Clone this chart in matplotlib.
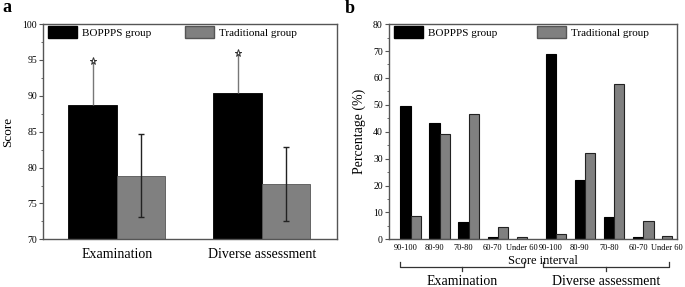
import matplotlib.pyplot as plt
from matplotlib.patches import Patch

plt.rcParams['font.family'] = ['Liberation Serif', 'DejaVu Serif']

# panel a
categories_a = ["Examination", "Diverse assessment"]
boppps_mean = [88.7, 90.4]
boppps_sd = [6.0, 5.4]
trad_mean = [78.9, 77.7]
trad_sd = [5.8, 5.2]

# panel b
intervals = ["90-100", "80-90", "70-80", "60-70", "Under 60"]
boppps_exam = [49.5, 43.1, 6.5, 0.9, None]
trad_exam = [8.8, 39.0, 46.6, 4.7, 0.7]
boppps_div = [68.9, 22.0, 8.4, 0.9, None]
trad_div = [2.0, 32.2, 57.6, 6.8, 1.3]
blocks = ["Examination", "Diverse assessment"]

GRAY = "#808080"
SPINE = "#555555"

fig = plt.figure(figsize=(6.85, 2.87), dpi=100)


def style_axes(ax):
    for s in ax.spines.values():
        s.set_color(SPINE)
        s.set_linewidth(1.0)
    ax.tick_params(axis='y', which='major', direction='out', length=3, width=0.8,
                   labelsize=7, pad=1.5, color=SPINE)
    ax.tick_params(axis='y', which='minor', direction='out', length=1.8, width=0.6, color=SPINE)
    ax.tick_params(axis='x', length=0)


def make_legend(ax, spacing):
    ax.legend(handles=[Patch(facecolor="black", edgecolor="black", label="BOPPPS group"),
                       Patch(facecolor=GRAY, edgecolor="#555555", label="Traditional group")],
              loc='upper left', bbox_to_anchor=(0.0, 1.015), ncol=2, frameon=False, fontsize=8,
              handlelength=2.6, handleheight=1.3, handletextpad=0.45, columnspacing=spacing,
              borderaxespad=0.3, borderpad=0.15)


# ---------------- panel a ----------------
ax1 = fig.add_axes([0.0632, 0.166, 0.4282, 0.750])
w = 0.333
xs = [1, 2]
ax1.bar([x - w / 2 for x in xs], boppps_mean, w, color="black", edgecolor="black", lw=0.6)
ax1.bar([x + w / 2 for x in xs], trad_mean, w, color=GRAY, edgecolor="#555555", lw=0.6)
ax1.errorbar([x - w / 2 for x in xs], boppps_mean, yerr=[[0, 0], boppps_sd], fmt='none',
             ecolor="#777777", elinewidth=1.0, capsize=0)
ax1.errorbar([x + w / 2 for x in xs], trad_mean, yerr=trad_sd, fmt='none',
             ecolor="#222222", elinewidth=1.0, capsize=2.5, capthick=1.0)
ax1.plot([x - w / 2 for x in xs], [m + s + 0.15 for m, s in zip(boppps_mean, boppps_sd)],
         ls='none', marker='*', ms=5.2, mfc='white', mec='#333333', mew=0.7, zorder=5)
ax1.set_xlim(0.494, 2.517)
ax1.set_ylim(70, 100)
ax1.set_yticks(range(70, 101, 5))
ax1.set_yticks([70 + 2.5 * i for i in range(13)], minor=True)
ax1.set_xticks(xs)
ax1.set_xticklabels(categories_a, fontsize=10)
ax1.tick_params(axis='x', pad=6)
ax1.set_ylabel("Score", fontsize=9.5, labelpad=6)
style_axes(ax1)
make_legend(ax1, 3.0)

# ---------------- panel b ----------------
ax2 = fig.add_axes([0.5679, 0.166, 0.4204, 0.750])
bw = 0.354
boppps_all = boppps_exam + boppps_div
trad_all = trad_exam + trad_div
pos = list(range(len(boppps_all)))
for k, (b, t) in enumerate(zip(boppps_all, trad_all)):
    if b is not None:
        ax2.bar(k - bw / 2, b, bw, color="black", edgecolor="black", lw=0.8)
        ax2.bar(k + bw / 2, t, bw, color=GRAY, edgecolor="#222222", lw=0.8)
    else:
        # no BOPPPS value: traditional bar takes the left slot
        ax2.bar(k - bw / 2, t, bw, color=GRAY, edgecolor="#222222", lw=0.8)
ax2.set_xlim(-0.74, 9.16)
ax2.set_ylim(0, 80)
ax2.set_yticks(range(0, 81, 10))
ax2.set_yticks(range(0, 81, 5), minor=True)
ax2.set_xticks([k - bw / 2 for k in pos])
ax2.set_xticklabels(intervals * 2, fontsize=6)
ax2.tick_params(axis='x', pad=3)
ax2.set_ylabel("Percentage (%)", fontsize=10, labelpad=5)
ax2.set_xlabel("Score interval", fontsize=9)
ax2.xaxis.set_label_coords(0.535, -0.072)
style_axes(ax2)
make_legend(ax2, 3.6)

# braces under the two blocks
tr = ax2.get_xaxis_transform()
n = len(intervals)
for i, name in enumerate(blocks):
    x0 = pos[i * n] - bw if i == 0 else pos[i * n] - 0.45
    x1 = pos[i * n + n - 1] - 0.1
    xm = (x0 + x1) / 2
    ax2.plot([x0, x0, x1, x1], [-0.105, -0.128, -0.128, -0.105], color="#333333",
             lw=0.9, transform=tr, clip_on=False)
    ax2.plot([xm, xm], [-0.128, -0.148], color="#333333", lw=0.9, transform=tr, clip_on=False)
    ax2.text(xm, -0.198, name, transform=tr, ha='center', va='center', fontsize=10)

fig.text(0.003, 0.958, "a", fontsize=13, fontweight='bold', va='baseline')
fig.text(0.503, 0.953, "b", fontsize=13, fontweight='bold', va='baseline')

fig.savefig("out.png", dpi=100)
